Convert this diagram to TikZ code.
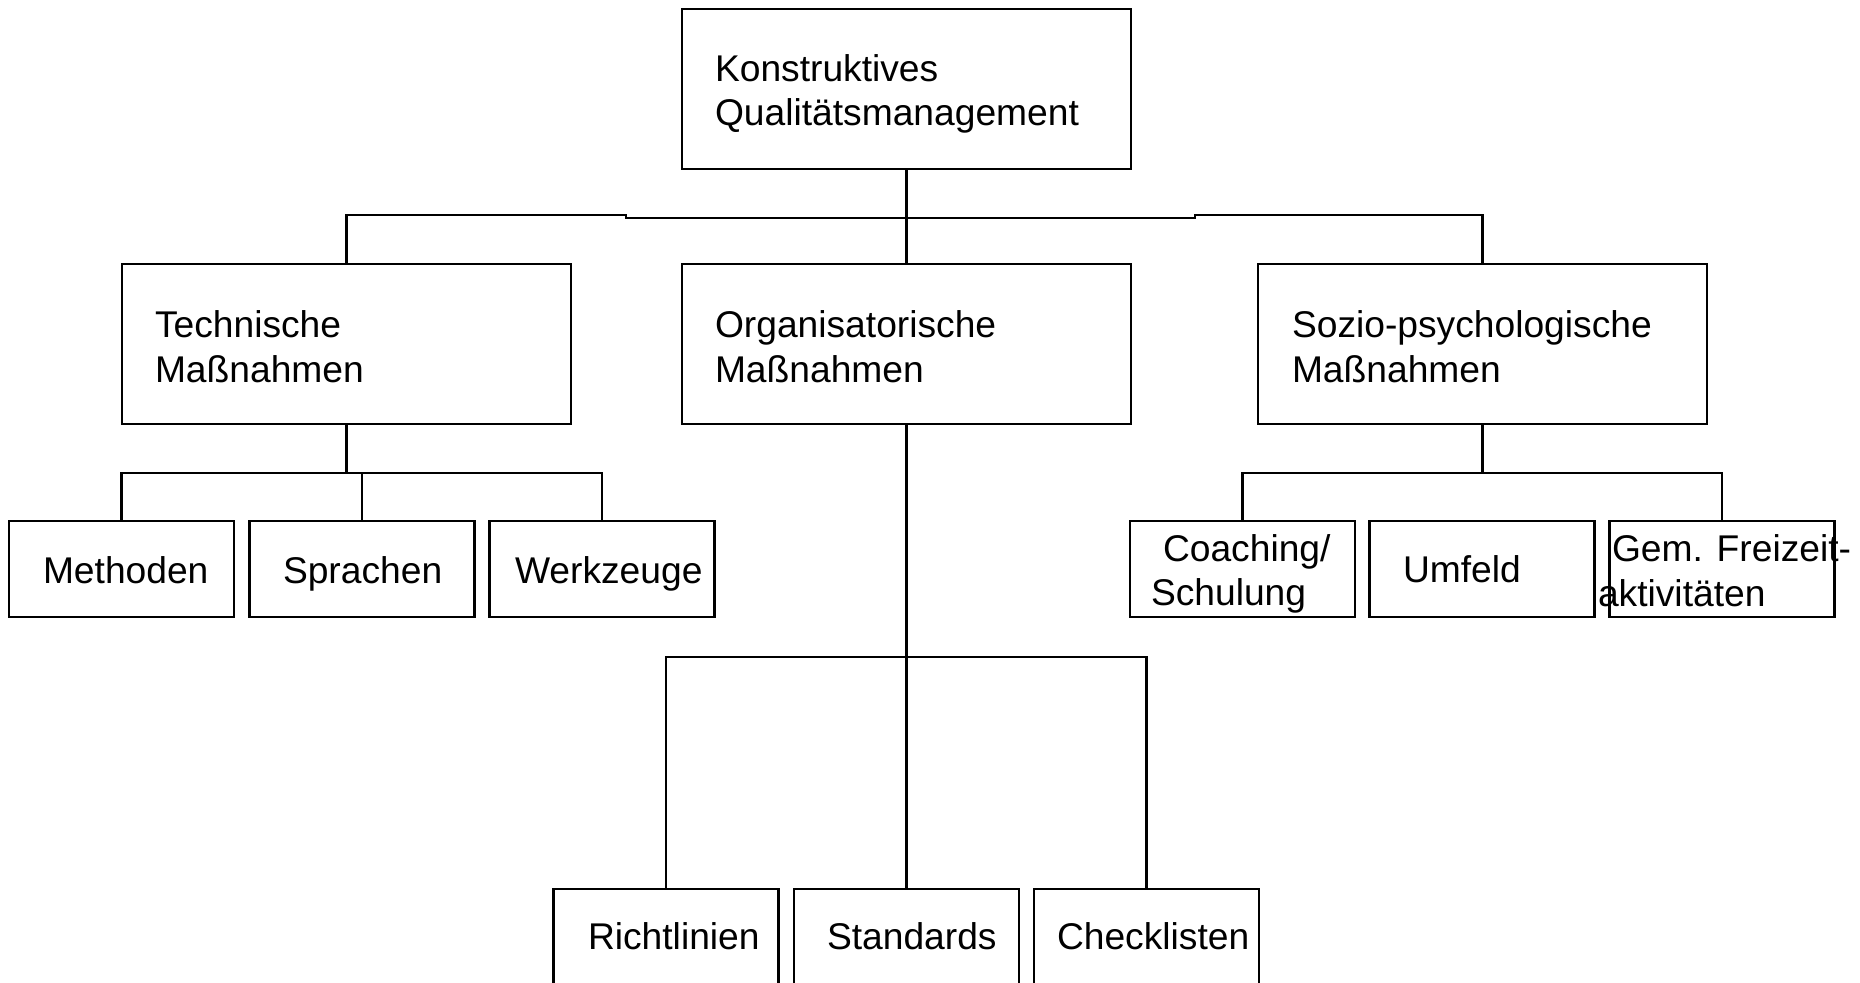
\documentclass[tikz,border=0pt]{standalone}
\usepackage{fontspec}
\setmainfont{Liberation Sans}
\begin{document}
\begin{tikzpicture}[x=0.5pt,y=-0.5pt,
  box/.style={draw=black, line width=1.1pt, inner sep=0pt, outer sep=0pt},
  bigbox/.style={box, minimum width=224.5pt, minimum height=80pt},
  smallbox/.style={box, minimum width=112.5pt, minimum height=48pt},
  lbl/.style={anchor=base west, inner sep=0pt, outer sep=0pt,
              font=\fontsize{18.6pt}{22pt}\selectfont},
  wire/.style={draw=black, line width=1.1pt, line join=miter}]
\useasboundingbox[fill=white] (0,0) rectangle (1860,983);

% level 0 and level 1 boxes
\node[bigbox] (top)   at (906.5,89)  {};
\node[bigbox] (tech)  at (346.5,344) {};
\node[bigbox] (org)   at (906.5,344) {};
\node[bigbox] (sozio) at (1482.5,344) {};

% technical measures
\node[smallbox] (meth) at (121.5,569) {};
\node[smallbox] (spr)  at (362,569)   {};
\node[smallbox] (werk) at (602,569)   {};

% socio-psychological measures
\node[smallbox] (coach) at (1242.5,569) {};
\node[smallbox] (umf)   at (1482,569)   {};
\node[smallbox] (gem)   at (1722,569)   {};

% organisational measures
\node[smallbox] (richt) at (666,937)    {};
\node[smallbox] (std)   at (906.5,937)  {};
\node[smallbox] (check) at (1146.5,937) {};

% labels
\node[lbl] (topA)  at (715,82)   {Konstruktives};
\node[lbl] (topB)  at (715,126)  {Qualitätsmanagement};
\node[lbl] (techA) at (155,338)  {Technische};
\node[lbl] (techB) at (155,383)  {Maßnahmen};
\node[lbl] (orgA)  at (715,338)  {Organisatorische};
\node[lbl] (orgB)  at (715,383)  {Maßnahmen};
\node[lbl] (sozA)  at (1292,338) {Sozio-psychologische};
\node[lbl] (sozB)  at (1292,383) {Maßnahmen};

\node[lbl] (methT) at (43,584)  {Methoden};
\node[lbl] (sprT)  at (283,584) {Sprachen};
\node[lbl] (werkT) at (515,584) {Werkzeuge};

\node[lbl] (coachA) at (1163,562) {Coaching/};
\node[lbl] (coachB) at (1151,606) {Schulung};
\node[lbl] (umfT)   at (1403,583) {Umfeld};
\node[lbl] (gemA)   at (1612,562) {Gem. Freizeit-};
\node[lbl] (gemB)   at (1598,607) {aktivitäten};

\node[lbl] (richtT) at (588,950)  {Richtlinien};
\node[lbl] (stdT)   at (827,950)  {Standards};
\node[lbl] (checkT) at (1057,950) {Checklisten};

% junction points of the buses
\coordinate (b1) at (626,215);
\coordinate (b2) at (626,218);
\coordinate (b3) at (1195,218);
\coordinate (b4) at (1195,215);
\coordinate (tj) at (346.5,473);
\coordinate (sj) at (1482.5,473);
\coordinate (oj) at (906.5,657);

% connectors
\draw[wire] (top.south) -- (org.north);
\draw[wire] (tech.north) |- (b1) -- (b2) -- (b3) -- (b4) -| (sozio.north);

\draw[wire] (tech.south) -- (tj);
\draw[wire] (meth.north) |- (tj) -| (werk.north);
\draw[wire] (spr.north) -- (spr.north |- tj);

\draw[wire] (sozio.south) -- (sj);
\draw[wire] (coach.north) |- (sj) -| (gem.north);

\draw[wire] (org.south) -- (std.north);
\draw[wire] (richt.north) |- (oj) -| (check.north);
\end{tikzpicture}
\end{document}
